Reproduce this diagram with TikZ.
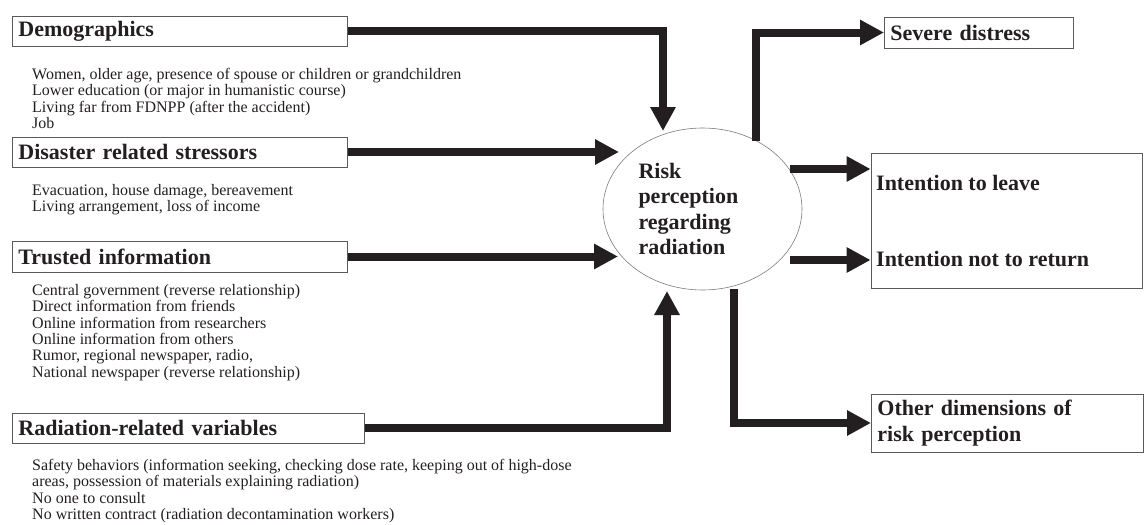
\documentclass[tikz,border=0pt]{standalone}
\usepackage{fontspec}
\setmainfont{Liberation Serif}
\usetikzlibrary{arrows.meta,shapes.geometric}
\usepackage{xcolor}
\definecolor{ink}{HTML}{231F20}
\definecolor{frame}{HTML}{5A5A5A}

\begin{document}
\begin{tikzpicture}[
  x=1pt, y=-1pt,
  box/.style={draw=frame, line width=0.8pt, anchor=west, align=left, inner xsep=6pt, inner ysep=0pt, text=ink, font=\bfseries\fontsize{22}{26}\selectfont},
  note/.style={anchor=north west, align=left, inner sep=0pt, text=ink, font=\fontsize{16}{16.4}\selectfont},
  label/.style={anchor=base west, inner sep=0pt, text=ink, font=\bfseries\fontsize{22}{26}\selectfont},
  arrow/.style={draw=ink, line width=8pt, -{Triangle[length=24pt, width=24pt]}}
]
\useasboundingbox (0,0) rectangle (1144,525);

\node[box, text width=323pt, minimum height=30pt] (demo) at (12,31) {Demographics};
\node[note] (demonote) at (32,68) {Women, older age, presence of spouse or children or grandchildren\\Lower education (or major in humanistic course)\\Living far from FDNPP (after the accident)\\Job};

\node[box, text width=323pt, minimum height=30pt] (stress) at (12,152) {Disaster related stressors};
\node[note] (stressnote) at (32,184) {Evacuation, house damage, bereavement\\Living arrangement, loss of income};

\node[box, text width=323pt, minimum height=31pt] (trust) at (12,256.5) {Trusted information};
\node[note] (trustnote) at (32,284) {Central government (reverse relationship)\\Direct information from friends\\Online information from researchers\\Online information from others\\Rumor, regional newspaper, radio,\\National newspaper (reverse relationship)};

\node[box, text width=340pt, minimum height=30pt] (rad) at (12,428) {Radiation-related variables};
\node[note] (radnote) at (32,459) {Safety behaviors (information seeking, checking dose rate, keeping out of high-dose\\areas, possession of materials explaining radiation)\\No one to consult\\No written contract (radiation decontamination workers)};

\node[draw=frame!80, line width=0.6pt, ellipse, minimum width=199pt, minimum height=162pt, inner sep=0pt, text width=128pt, align=left, text=ink, font=\bfseries\fontsize{22}{25.5}\selectfont] (risk) at (702.5,209) {Risk\\perception\\regarding\\radiation};

\node[box, text width=177pt, minimum height=31pt] (severe) at (884,32.5) {Severe distress};

\node[draw=frame, line width=0.8pt, minimum width=271.5pt, minimum height=135pt, inner sep=0pt] (intent) at (1006.75,220.5) {};
\node[label] (leave) at (876,190) {Intention to leave};
\node[label] (noreturn) at (876,266) {Intention not to return};

\node[box, text width=259.5pt, minimum height=58pt] (other) at (871,423) {Other dimensions of\\risk perception};

\coordinate (demoin) at (663,131);
\coordinate (stressin) at (619,152);
\coordinate (trustin) at (618,256.5);
\coordinate (radin) at (667,291);
\coordinate (sevout) at (756,141);
\coordinate (leaveout) at (790,169);
\coordinate (leavein) at (intent.west |- leaveout);
\coordinate (returnout) at (790,260);
\coordinate (returnin) at (intent.west |- returnout);
\coordinate (otherout) at (734,289);

\draw[arrow] (demo.east) -| (demoin);
\draw[arrow] (stress.east) -- (stressin);
\draw[arrow] (trust.east) -- (trustin);
\draw[arrow] (rad.east) -| (radin);
\draw[arrow] (sevout) |- (severe.west);
\draw[arrow] (leaveout) -- (leavein);
\draw[arrow] (returnout) -- (returnin);
\draw[arrow] (otherout) |- (other.west);

\end{tikzpicture}
\end{document}
